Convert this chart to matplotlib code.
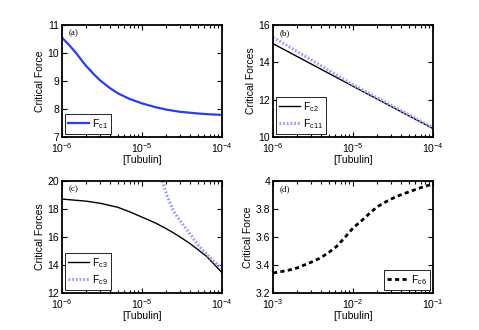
import numpy as np
import matplotlib.pyplot as plt
from matplotlib.ticker import LogLocator

plt.rcParams['font.family'] = ['Liberation Sans', 'DejaVu Sans']
plt.rcParams['mathtext.fontset'] = 'custom'
plt.rcParams['mathtext.rm'] = 'Liberation Sans'
plt.rcParams['mathtext.it'] = 'Liberation Sans'

# (a) Fc1
tub_a = [1e-6, 1.25e-6, 1.5e-6, 1.75e-6, 2e-6, 2.5e-6, 3e-6, 4e-6, 5e-6, 7e-6,
         1e-5, 1.5e-5, 2e-5, 3e-5, 5e-5, 7e-5, 1e-4]
fc1 = [10.55, 10.26, 10.0, 9.75, 9.54, 9.24, 9.02, 8.74, 8.56, 8.36,
       8.2, 8.06, 7.98, 7.9, 7.84, 7.81, 7.79]

# (b) Fc2, Fc11
tub_b = [1e-6, 1e-5, 1e-4]
fc2 = [15.0, 12.72, 10.45]
fc11 = [15.35, 12.8, 10.5]

# (c) Fc3, Fc9
tub_c3 = [1e-6, 2e-6, 3e-6, 5e-6, 7e-6, 1e-5, 1.5e-5, 2e-5, 2.5e-5, 3e-5,
          4e-5, 5e-5, 6.4e-5, 8e-5, 1e-4]
fc3 = [18.71, 18.56, 18.41, 18.12, 17.8, 17.42, 16.98, 16.6, 16.28, 16.0,
       15.52, 15.1, 14.62, 14.05, 13.45]
tub_c9 = [1.8e-5, 2.04e-5, 2.47e-5, 3e-5, 4e-5, 5e-5, 7e-5, 1e-4]
fc9 = [20.0, 19.0, 17.86, 17.15, 16.2, 15.45, 14.55, 13.75]

# (d) Fc6
tub_d = [1e-3, 1.5e-3, 2e-3, 3e-3, 3.9e-3, 5e-3, 6.25e-3, 8e-3, 1e-2, 1.3e-2,
         1.63e-2, 2e-2, 2.64e-2, 3.5e-2, 5.2e-2, 7e-2, 1e-1]
fc6 = [3.343, 3.36, 3.379, 3.42, 3.45, 3.49, 3.533, 3.6, 3.664, 3.72,
       3.771, 3.815, 3.855, 3.89, 3.926, 3.952, 3.979]

fig = plt.figure(figsize=(4.79, 3.30), dpi=100)
w, h = 160 / 479, 112 / 330
axa = fig.add_axes([62 / 479, 1 - 137 / 330, w, h])
axb = fig.add_axes([273 / 479, 1 - 137 / 330, w, h])
axc = fig.add_axes([62 / 479, 1 - 293 / 330, w, h])
axd = fig.add_axes([273 / 479, 1 - 293 / 330, w, h])

blue = '#2a3cf0'
light = '#9aa0ff'

axa.plot(tub_a, fc1, color=blue, lw=1.6, label=r'F$_{\rm c1}$')
axb.plot(tub_b, fc2, color='k', lw=1.0, label=r'F$_{\rm c2}$')
axb.plot(tub_b, fc11, color=light, lw=2.2, ls=(0, (0.6, 0.6)), label=r'F$_{\rm c11}$')
axc.plot(tub_c3, fc3, color='k', lw=1.0, label=r'F$_{\rm c3}$')
axc.plot(tub_c9, fc9, color=light, lw=2.2, ls=(0, (0.6, 0.6)), label=r'F$_{\rm c9}$')
axd.plot(tub_d, fc6, color='k', lw=2.0, ls=(0, (1.5, 1.2)), label=r'F$_{\rm c6}$')

setup = [
    (axa, (1e-6, 1e-4), (7, 11), [7, 8, 9, 10, 11], 'Critical Force', '(a)', 'lower left'),
    (axb, (1e-6, 1e-4), (10, 16), [10, 12, 14, 16], 'Critical Forces', '(b)', 'lower left'),
    (axc, (1e-6, 1e-4), (12, 20), [12, 14, 16, 18, 20], 'Critical Forces', '(c)', 'lower left'),
    (axd, (1e-3, 1e-1), (3.2, 4.0), [3.2, 3.4, 3.6, 3.8, 4.0], 'Critical Force', '(d)', 'lower right'),
]

for ax, xl, yl, yt, ylab, tag, loc in setup:
    ax.set_xscale('log')
    ax.set_xlim(*xl)
    ax.set_ylim(*yl)
    ax.set_yticks(yt)
    ax.set_yticklabels(['%g' % v for v in yt])
    ax.xaxis.set_major_locator(LogLocator(base=10, numticks=10))
    ax.xaxis.set_minor_locator(LogLocator(base=10, subs=np.arange(2, 10), numticks=10))
    ax.tick_params(which='both', direction='in', top=True, right=True, labelsize=7.5,
                   width=0.8)
    ax.tick_params(axis='x', pad=3)
    ax.tick_params(axis='y', pad=2)
    ax.tick_params(which='major', length=3.5)
    ax.tick_params(which='minor', length=2)
    for s in ax.spines.values():
        s.set_linewidth(1.3)
    ax.set_xlabel('[Tubulin]', fontsize=7.5, labelpad=0)
    ax.set_ylabel(ylab, fontsize=7.5, labelpad=2)
    ax.text(0.04, 0.96, tag, transform=ax.transAxes, ha='left', va='top',
            fontsize=6.5, family='Liberation Serif')
    leg = ax.legend(loc=loc, fontsize=7.5, fancybox=False, framealpha=1,
                    edgecolor='k', handlelength=2.0, handletextpad=0.3,
                    borderpad=0.3, labelspacing=0.3, borderaxespad=0.3)
    leg.get_frame().set_linewidth(0.6)

fig.savefig('out.png', dpi=100)
